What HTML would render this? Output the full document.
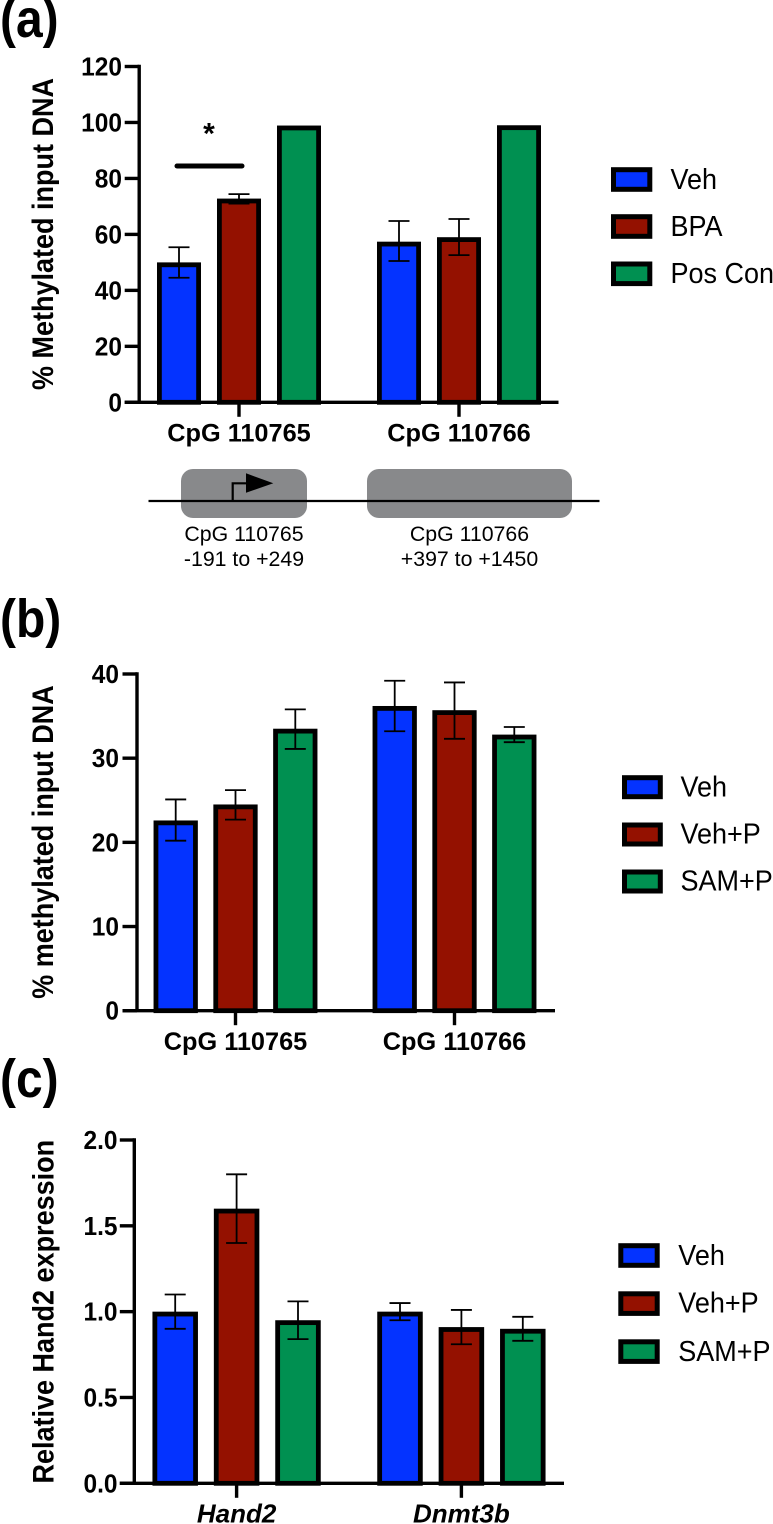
<!DOCTYPE html>
<html>
<head>
<meta charset="utf-8">
<style>
html,body{margin:0;padding:0;background:#fff;width:773px;height:1524px;overflow:hidden}
svg{display:block}
text{font-family:"Liberation Sans",Arial,sans-serif;fill:#000}
</style>
</head>
<body>
<svg id="figure" xmlns="http://www.w3.org/2000/svg" width="773" height="1524" viewBox="0 0 773 1524">
  <text transform="translate(0 37) scale(1 1.12)" font-size="48" font-weight="700">(a)</text>
  <text transform="translate(0 637) scale(1 1.12)" font-size="48" font-weight="700">(b)</text>
  <text transform="translate(0 1097) scale(1 1.12)" font-size="48" font-weight="700">(c)</text>

  <g id="panel-a"></g>
  <g id="panel-b"></g>
  <g id="panel-c"></g>

  <line x1="177" y1="166" x2="242" y2="166" stroke="#000" stroke-width="5" stroke-linecap="round"/>
  <text x="209" y="143.5" font-size="30" font-weight="700" text-anchor="middle">*</text>

  <g>
    <rect x="181" y="469" width="126" height="49" rx="12" fill="#88898b"/>
    <rect x="367" y="469" width="205" height="49" rx="12" fill="#88898b"/>
    <line x1="148.5" y1="501" x2="599.5" y2="501" stroke="#000" stroke-width="2.2"/>
    <path d="M232.7 501V483.3H247" fill="none" stroke="#000" stroke-width="2.2"/>
    <polygon points="246,473.3 246,492.7 273.3,483.3" fill="#000"/>
    <text x="244" y="541" font-size="21.3" text-anchor="middle">CpG 110765</text>
    <text x="244" y="566" font-size="21.3" text-anchor="middle">-191 to +249</text>
    <text x="469.5" y="541" font-size="21.3" text-anchor="middle">CpG 110766</text>
    <text x="469.5" y="566" font-size="21.3" text-anchor="middle">+397 to +1450</text>
  </g>

  <g>
    <rect x="613.5" y="169.7" width="36.3" height="19.6" fill="#0433ff" stroke="#000" stroke-width="5"/>
    <text transform="translate(670.5 189) scale(1 1.07)" font-size="27">Veh</text>
    <rect x="613.5" y="216.7" width="36.3" height="19.6" fill="#941100" stroke="#000" stroke-width="5"/>
    <text transform="translate(670.5 236) scale(1 1.07)" font-size="27">BPA</text>
    <rect x="613.5" y="264" width="36.3" height="19.6" fill="#009051" stroke="#000" stroke-width="5"/>
    <text transform="translate(670.5 283) scale(1 1.07)" font-size="27">Pos Con</text>
  </g>
  <g>
    <rect x="624.5" y="777.7" width="35.8" height="19" fill="#0433ff" stroke="#000" stroke-width="5"/>
    <text transform="translate(680.5 796.3) scale(1 1.07)" font-size="27">Veh</text>
    <rect x="624.5" y="825" width="35.8" height="19" fill="#941100" stroke="#000" stroke-width="5"/>
    <text transform="translate(680.5 843.3) scale(1 1.07)" font-size="27">Veh+P</text>
    <rect x="624.5" y="872" width="35.8" height="19" fill="#009051" stroke="#000" stroke-width="5"/>
    <text transform="translate(680.5 890.7) scale(1 1.07)" font-size="27">SAM+P</text>
  </g>
  <g>
    <rect x="620.8" y="1245.7" width="36.4" height="19.6" fill="#0433ff" stroke="#000" stroke-width="5"/>
    <text transform="translate(678.3 1265) scale(1 1.07)" font-size="27">Veh</text>
    <rect x="620.8" y="1293.8" width="36.4" height="19.6" fill="#941100" stroke="#000" stroke-width="5"/>
    <text transform="translate(678.3 1312.7) scale(1 1.07)" font-size="27">Veh+P</text>
    <rect x="620.8" y="1341.8" width="36.4" height="19.6" fill="#009051" stroke="#000" stroke-width="5"/>
    <text transform="translate(678.3 1361) scale(1 1.07)" font-size="27">SAM+P</text>
  </g>
</svg>

<script>
// Panel (a) data
const aCategories = ['CpG 110765', 'CpG 110766'];
const aTickValues = [0, 20, 40, 60, 80, 100, 120];
const aTickLabels = ['0', '20', '40', '60', '80', '100', '120'];
const aVeh = [50, 57.4];
const aVehHigh = [55.4, 64.8];
const aVehLow = [44.5, 50.5];
const aBpa = [72.8, 59];
const aBpaHigh = [74.4, 65.5];
const aBpaLow = [71, 52.6];
const aPos = [98.9, 99];

// Panel (b) data
const bCategories = ['CpG 110765', 'CpG 110766'];
const bTickValues = [0, 10, 20, 30, 40];
const bTickLabels = ['0', '10', '20', '30', '40'];
const bVeh = [22.6, 36.2];
const bVehHigh = [25.1, 39.2];
const bVehLow = [20.2, 33.2];
const bVehP = [24.5, 35.7];
const bVehPHigh = [26.2, 39];
const bVehPLow = [22.7, 32.3];
const bSamP = [33.5, 32.8];
const bSamPHigh = [35.8, 33.7];
const bSamPLow = [31.1, 31.9];

// Panel (c) data
const cCategories = ['Hand2', 'Dnmt3b'];
const cTickValues = [0, 0.5, 1, 1.5, 2];
const cTickLabels = ['0.0', '0.5', '1.0', '1.5', '2.0'];
const cVeh = [1, 1];
const cVehHigh = [1.1, 1.05];
const cVehLow = [0.9, 0.95];
const cVehP = [1.6, 0.91];
const cVehPHigh = [1.8, 1.01];
const cVehPLow = [1.4, 0.81];
const cSamP = [0.95, 0.9];
const cSamPHigh = [1.06, 0.97];
const cSamPLow = [0.84, 0.83];

const NS = 'http://www.w3.org/2000/svg';
const BLUE = '#0433ff', RED = '#941100', GREEN = '#009051';

function make(tag, attrs, parent, content) {
  const el = document.createElementNS(NS, tag);
  for (const k in attrs) el.setAttribute(k, attrs[k]);
  if (content !== undefined) el.textContent = content;
  parent.appendChild(el);
  return el;
}

function drawPanel(p) {
  const root = document.getElementById(p.id);
  const yScale = v => p.y0 - (v - p.yMin) / (p.yMax - p.yMin) * (p.y0 - p.yTop);
  const xScale = (c, s) => p.firstCenter + c * p.catStep + s * p.barStep;

  // bars
  p.series.forEach((s, si) => {
    s.values.forEach((v, ci) => {
      const cx = xScale(ci, si);
      const top = yScale(v);
      const bar = make('rect', {
        x: cx - p.barWidth / 2 + 2.4,
        y: top + 2.4,
        width: p.barWidth - 4.8,
        height: p.y0 - top - 2.4,
        fill: s.color,
        stroke: '#000',
        'stroke-width': 4.8
      }, root);
      
      
    });
  });

  // error bars
  p.series.forEach((s, si) => {
    if (!s.high) return;
    s.values.forEach((v, ci) => {
      const cx = xScale(ci, si);
      const hi = yScale(s.high[ci]);
      const lo = yScale(s.low[ci]);
      const err = make('path', {
        d: 'M' + (cx - 10.5) + ' ' + hi + 'H' + (cx + 10.5) + 'M' + cx + ' ' + hi + 'V' + lo + 'M' + (cx - 10.5) + ' ' + lo + 'H' + (cx + 10.5),
        fill: 'none',
        stroke: '#000',
        'stroke-width': 1.8
      }, root);
      
      
    });
  });

  // y axis
  const yAxis = make('line', {x1: p.axisX, y1: p.yTop - 1.7, x2: p.axisX, y2: p.y0, stroke: '#000', 'stroke-width': 3.4}, root);
  
  

  p.tickValues.forEach((v, i) => {
    const y = yScale(v);
    const tick = make('line', {x1: p.axisX - 14.5, y1: y, x2: p.axisX, y2: y, stroke: '#000', 'stroke-width': 3.4}, root);
    
    
    const label = make('text', {transform: 'translate(' + p.tickLabelX + ' ' + (y + 9) + ') scale(1 1.05)', 'font-size': 24.5, 'font-weight': 700, 'text-anchor': 'end'}, root, p.tickLabels[i]);
    
    
  });

  // x axis
  const xAxis = make('line', {x1: p.axisX - 14.5, y1: p.y0, x2: p.axisEnd, y2: p.y0, stroke: '#000', 'stroke-width': 3.4}, root);
  
  

  p.categories.forEach((c, ci) => {
    const cx = xScale(ci, 1);
    const tick = make('line', {x1: cx, y1: p.y0, x2: cx, y2: p.y0 + 14.5, stroke: '#000', 'stroke-width': 3.4}, root);
    
    
    const label = make('text', {x: cx, y: p.xLabelY, 'font-size': p.xLabelSize, 'font-weight': 700, 'font-style': p.xLabelStyle, 'text-anchor': 'middle'}, root, c);
    
    
  });

  // y title
  const title = make('text', {
    transform: 'translate(' + p.titleX + ' ' + p.titleCenter + ') rotate(-90) scale(1 1.08)',
    'font-size': 27,
    'font-weight': 700,
    'text-anchor': 'middle'
  }, root, p.title);
  
  
}

drawPanel({
  id: 'panel-a', tag: 'a', title: '% Methylated input DNA', titleX: 53, titleCenter: 234,
  categories: aCategories, tickValues: aTickValues, tickLabels: aTickLabels,
  yMin: 0, yMax: 120, y0: 402.3, yTop: 66.5, axisX: 139.2, axisEnd: 558.5, tickLabelX: 122,
  firstCenter: 179, barStep: 60, catStep: 220, barWidth: 44,
  xLabelY: 441.5, xLabelSize: 25.3, xLabelStyle: 'normal',
  series: [
    {key: 'veh', color: BLUE, values: aVeh, high: aVehHigh, low: aVehLow},
    {key: 'bpa', color: RED, values: aBpa, high: aBpaHigh, low: aBpaLow},
    {key: 'pos-con', color: GREEN, values: aPos}
  ]
});

drawPanel({
  id: 'panel-b', tag: 'b', title: '% methylated input DNA', titleX: 53, titleCenter: 842,
  categories: bCategories, tickValues: bTickValues, tickLabels: bTickLabels,
  yMin: 0, yMax: 40, y0: 1010.7, yTop: 674, axisX: 137, axisEnd: 555, tickLabelX: 119,
  firstCenter: 175.7, barStep: 59.8, catStep: 219, barWidth: 44.3,
  xLabelY: 1050, xLabelSize: 25.3, xLabelStyle: 'normal',
  series: [
    {key: 'veh', color: BLUE, values: bVeh, high: bVehHigh, low: bVehLow},
    {key: 'veh-p', color: RED, values: bVehP, high: bVehPHigh, low: bVehPLow},
    {key: 'sam-p', color: GREEN, values: bSamP, high: bSamPHigh, low: bSamPLow}
  ]
});

drawPanel({
  id: 'panel-c', tag: 'c', title: 'Relative Hand2 expression', titleX: 53.3, titleCenter: 1311.7,
  categories: cCategories, tickValues: cTickValues, tickLabels: cTickLabels,
  yMin: 0, yMax: 2, y0: 1483.3, yTop: 1140, axisX: 134.3, axisEnd: 564, tickLabelX: 117.5,
  firstCenter: 175.2, barStep: 61.4, catStep: 224.8, barWidth: 45.5,
  xLabelY: 1522.7, xLabelSize: 26, xLabelStyle: 'italic',
  series: [
    {key: 'veh', color: BLUE, values: cVeh, high: cVehHigh, low: cVehLow},
    {key: 'veh-p', color: RED, values: cVehP, high: cVehPHigh, low: cVehPLow},
    {key: 'sam-p', color: GREEN, values: cSamP, high: cSamPHigh, low: cSamPLow}
  ]
});
</script>
</body>
</html>
